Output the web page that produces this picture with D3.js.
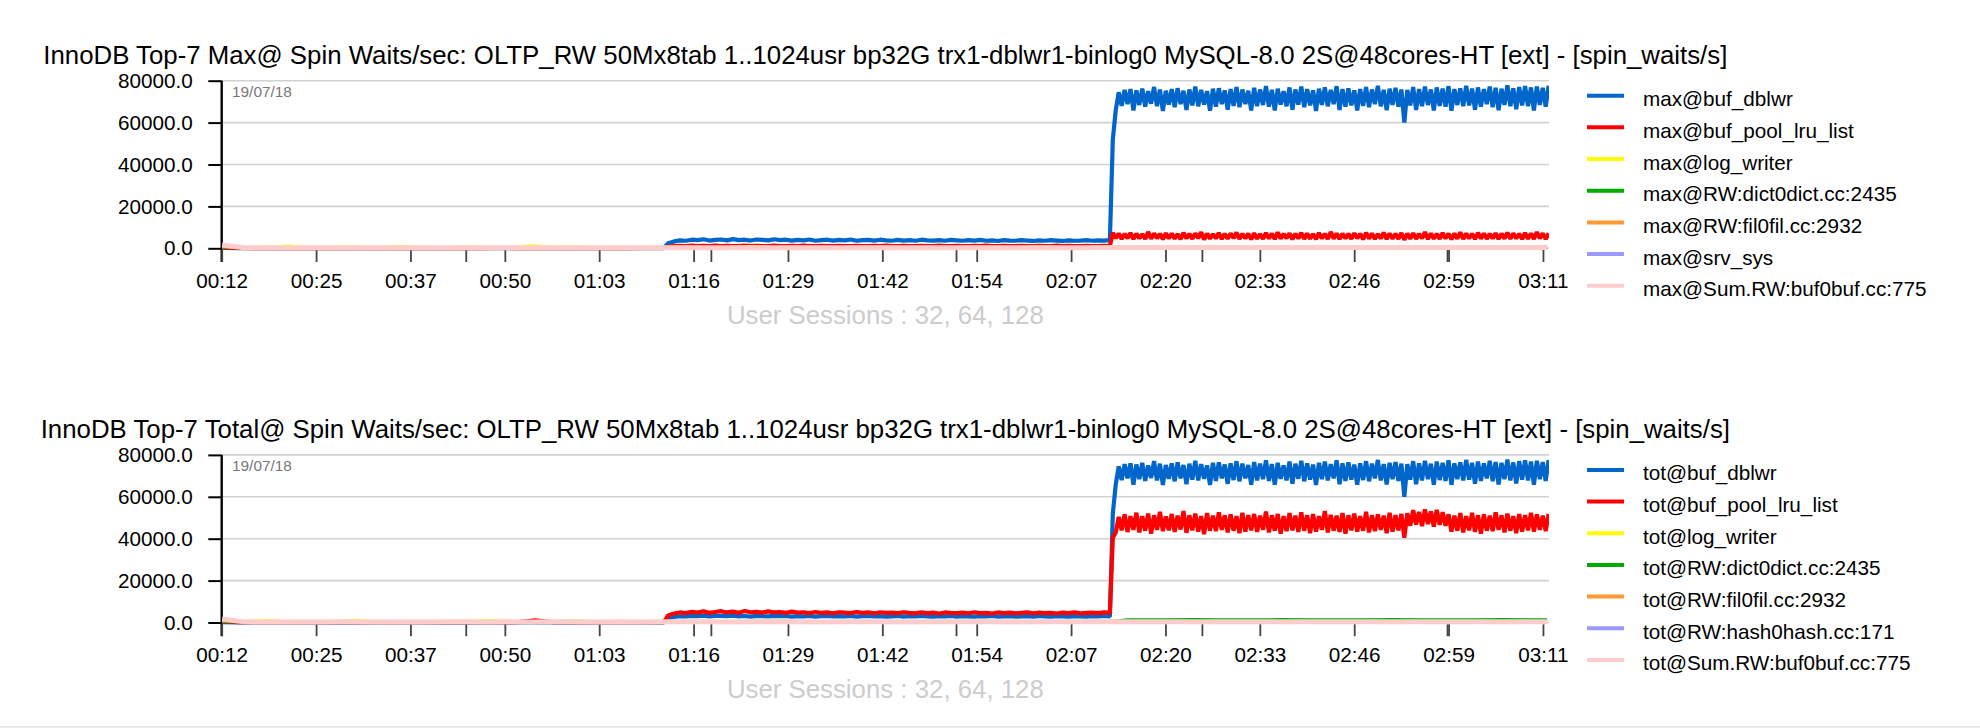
<!DOCTYPE html>
<html><head><meta charset="utf-8">
<script src="https://cdn.jsdelivr.net/npm/d3@7/dist/d3.min.js"></script>
<style>
body{margin:0;background:#fff;}
svg{display:block;font-family:"Liberation Sans",Arial,Helvetica,sans-serif;}
</style>
</head><body>
<svg id="c" width="1980" height="728"></svg>
<script>
// ---------------- DATA ----------------
const topTitle = "InnoDB Top-7 Max@ Spin Waits/sec: OLTP_RW 50Mx8tab 1..1024usr bp32G trx1-dblwr1-binlog0 MySQL-8.0 2S@48cores-HT [ext] - [spin_waits/s]";
const botTitle = "InnoDB Top-7 Total@ Spin Waits/sec: OLTP_RW 50Mx8tab 1..1024usr bp32G trx1-dblwr1-binlog0 MySQL-8.0 2S@48cores-HT [ext] - [spin_waits/s]";
const dateLabel = "19/07/18";
const sessionsLabel = "User Sessions : 32, 64, 128";

const topNames = ["max@buf_dblwr","max@buf_pool_lru_list","max@log_writer","max@RW:dict0dict.cc:2435","max@RW:fil0fil.cc:2932","max@srv_sys","max@Sum.RW:buf0buf.cc:775"];
const botNames = ["tot@buf_dblwr","tot@buf_pool_lru_list","tot@log_writer","tot@RW:dict0dict.cc:2435","tot@RW:fil0fil.cc:2932","tot@RW:hash0hash.cc:171","tot@Sum.RW:buf0buf.cc:775"];
const seriesColors = ["#0066cc","#ff0000","#ffff00","#00aa00","#ff9933","#9999ff","#ffcccc"];

// time axis (minutes of the run clock)
const timeStart = 12.35, timeEnd = 192.65, tickStep = 12.82;
const xTickLabels = ["00:12","00:25","00:37","00:50","01:03","01:16","01:29","01:42","01:54","02:07","02:20","02:33","02:46","02:59","03:11"];
const markerTimes = [45.5, 78.8, 112.1, 145.5, 178.8];
const yTicks = [0, 20000, 40000, 60000, 80000];

// sample times: phase A (idle), phase B, phase C ; and a coarse grid for the small series
const timesA = d3.range(12.4, 72.5, 2.5);
const timesB = d3.range(73.0, 133.2, 0.8);
const timesC = d3.range(133.4, 192.7, 0.4);
const timesMinor = d3.range(12.4, 193, 3);

// ---- max@buf_dblwr
const maxDblwrA = [200,100,80,60,90,70,50,80,60,90,70,60,80,50,70,60,80,70,60,90,70,60,80,70,100];
const maxDblwrB = [2400,3300,3800,3600,4100,3900,4300,3700,4000,4200,
3800,4400,3900,4100,3700,4200,4000,3800,4300,3900,
4100,3700,4000,3800,4200,3600,3900,4100,3700,4000,
3800,4200,3600,3900,4000,3700,4100,3800,3600,4000,
3700,3900,3600,4100,3800,3700,3900,3600,4000,3800,
3600,3900,3700,4000,3600,3800,3500,3900,3700,3600,
3900,3700,3500,3800,3600,3900,3700,3500,3800,3600,
3700,3900,3600,3800,3700,3900];
const maxDblwrC = [52000,66000,74500,68000,75600,68800,76000,65800,75400,68400,
76200,67600,75000,69000,77000,67800,75800,65600,75200,68600,
76000,67400,76400,68800,75200,66000,75800,68200,77200,67800,
75600,68600,75000,65700,76200,67600,76400,68800,75400,66200,
76000,68000,77000,67400,75800,68800,75200,65800,76600,67800,
75800,68400,77400,67600,75600,65800,76200,68600,75000,67800,
76800,66200,75800,68600,77200,67400,76000,68200,75400,65600,
76200,68400,76800,67800,75600,68800,77400,66000,76000,67600,
76400,68200,75400,65800,76000,68000,77000,67400,75800,68800,
77600,67800,75600,65900,76200,68400,76600,67600,75800,60000,
75600,68200,77000,66000,76000,67800,77200,68400,75800,65800,
76800,68000,76200,67600,77400,65700,76000,68400,76400,67800,
77600,68200,76200,66200,76800,67600,76000,68800,77200,67400,
76600,65900,76200,68400,77800,67800,76400,66400,77000,68200,
77400,67800,76800,65800,77200,68400,76600,67600,77600];

// ---- max@buf_pool_lru_list
const maxLruA = [300,150,120,140,130,150,120,140,130,150,120,140,130,150,120,140,130,150,120,140,130,150,120,140,150];
const maxLruB = [800,1000,1200,1100,1300,1000,1200,1100,1300,1000,
1200,1100,1000,1300,1100,1200,1000,1100,1300,1100,
1000,1200,1100,1300,1000,1100,1200,1000,1100,1200,
1100,1000,1200,1100,1000,1200,1100,1300,1000,1100,
1200,1000,1100,1200,1000,1100,1300,1100,1000,1200,
1100,1000,1200,1100,1300,1000,1100,1200,1000,1100,
1200,1100,1000,1200,1100,1000,1300,1100,1200,1000,
1100,1200,1000,1100,1200,1100];
const maxLruC = [7400,4800,7000,4500,6900,4800,7300,4400,7000,4700,
6800,4500,7800,4600,7100,4800,6900,4300,7200,4700,
7000,4600,6800,4400,7400,4700,6900,4500,7100,4800,
7700,4200,7000,4600,6800,4700,7300,4400,6900,4600,
7100,4800,7500,4500,6900,4700,7000,4300,7200,4600,
6800,4500,7300,4700,7000,4400,7600,4600,6900,4800,
7100,4300,6900,4700,7400,4500,7000,4600,6800,4400,
7300,4700,6900,4500,7800,4600,7100,4400,7000,4700,
6900,4500,7200,4800,6900,4300,7400,4600,7000,4500,
6800,4700,7500,4400,7100,4600,6900,4500,7300,4100,
7000,4600,7200,4500,6900,4700,7700,4400,7100,4600,
6900,4500,7300,4700,7000,4300,7100,4600,7600,4500,
7000,4700,6900,4400,7400,4600,7100,4500,6900,4700,
7200,4400,7000,4600,7500,4500,7100,4700,6900,4400,
7300,4600,7000,4500,7700,4700,7100,4400,7200];

// ---- small max@ series (coarse grid)
const maxLogWriter = [900,700,800,1400,700,800,900,700,1300,800,700,900,800,700,1500,800,900,700,800,700,800,900,700,800,1200,700,900,800,700,800,900,700,800,700,900,800,700,1000,800,700,900,800,1000,900,800,1000,900,800,900,1000,800,900,1000,800,900,1000,900,800,1000,900,900];
const maxDict = [200,150,120,140,160,130,150,140,120,160,150,130,140,160,120,150,140,130,160,150,200,220,180,210,190,230,200,180,220,210,190,200,230,180,210,200,190,220,200,210,300,280,310,290,300,320,280,300,290,310,300,280,320,290,300,310,280,300,290,310,300];
const maxFil = [500,400,380,420,400,390,410,380,420,400,390,410,400,380,420,400,390,410,400,380,450,470,440,460,450,480,440,460,450,470,440,460,480,450,470,440,460,450,470,460,600,580,620,590,600,610,580,600,620,590,600,610,580,600,590,620,600,580,610,600,600];
const maxSrvSys = [600,100,90,110,100,80,100,90,110,100,90,100,110,90,100,80,100,90,110,100,100,90,110,100,80,100,90,110,100,90,100,110,90,100,80,100,90,110,100,100,120,110,130,120,110,120,130,110,120,130,110,120,110,130,120,110,120,130,110,120,120];
const maxSumBuf = [1600,300,280,300,290,310,300,280,300,290,300,310,280,300,290,300,310,280,300,290,320,300,310,290,320,300,310,290,300,320,310,290,300,320,300,310,290,300,320,310,350,340,360,350,340,360,350,340,360,350,340,360,350,340,360,350,340,360,350,340,350];

// ---- tot@buf_dblwr
const totDblwrA = [150,60,50,40,60,50,40,60,50,40,60,50,40,60,50,40,60,50,40,60,50,40,60,50,60];
const totDblwrB = [2000,2700,3000,2900,3200,3000,3300,2900,3100,3200,
3000,3300,2900,3100,2800,3200,3000,2900,3200,3000,
3100,2800,3000,2900,3200,2800,3000,3100,2900,3000,
2900,3100,2800,3000,3100,2900,3000,2800,2900,3100,
2800,3000,2900,3100,2900,2800,3000,2900,3100,2800,
3000,2900,2800,3000,2900,3100,2800,2900,3000,2800,
2900,3000,2800,3100,2900,2800,3000,2900,2800,3000,
2900,2800,3000,2900,3100,2900];
const totDblwrC = maxDblwrC; // the two traces coincide in the picture

// ---- tot@buf_pool_lru_list
const totLruA = [400,150,120,140,130,150,120,140,130,150,120,140,130,150,120,140,130,1000,120,140,130,150,120,140,150];
const totLruB = [3400,4300,4800,4500,5100,4700,5300,4600,5000,5400,
4800,5200,4600,5500,4900,5100,4700,5300,4800,5000,
4600,5200,4700,4900,4500,5000,4600,4800,4400,4900,
4700,4500,5000,4600,4800,4400,4900,4600,4700,4500,
4900,4600,4400,4800,4500,4700,4300,4800,4600,4500,
4700,4400,4900,4500,4600,4300,4800,4500,4700,4400,
4600,4800,4400,4700,4500,4600,4300,4700,4500,4800,
4400,4600,4700,4500,4800,4600];
const totLruC = [40500,43000,50400,44000,51600,43200,50800,44200,52400,43000,
50800,43800,52000,42400,51200,44200,52800,43600,50600,44000,
51800,43200,51000,44400,53200,42800,51200,44000,52000,43400,
50800,42200,52200,43800,51000,43600,52600,44200,51200,43000,
51600,43800,50800,42600,52400,43400,51200,44000,51800,43200,
51000,44200,53000,43000,51200,43800,51800,42400,50800,43600,
52200,44000,51000,43200,52600,43800,51200,42600,51800,43400,
50800,44200,53200,43000,51400,43800,51000,43200,52200,42400,
51200,44000,52000,43400,50800,43800,52800,43000,51200,43600,
51600,44200,51000,42600,52400,43400,51200,44000,51800,40500,
52200,46200,53600,46800,52800,46000,54000,47000,53000,45800,
53800,46600,52600,46200,51600,43400,51000,43800,52200,43000,
50800,44000,52400,43200,51200,42400,51600,43800,51000,43600,
52600,44200,51200,43000,52000,43800,50800,42600,51800,43400,
51200,44000,52400,43400,51600,44200,51000,43600,51800];

// ---- small tot@ series (coarse grid)
const totLogWriter = [1000,800,1300,700,900,800,1400,700,800,900,700,800,1300,900,700,800,1200,700,900,800,700,900,800,700,900,1100,800,700,900,800,700,800,900,700,1000,800,900,700,800,900,900,1000,800,900,1000,800,900,1000,800,900,1000,900,800,1000,900,800,1000,900,800,900,900];
const totDict = [150,100,90,110,100,90,110,100,90,110,100,90,110,100,90,110,100,90,110,100,250,300,280,320,300,290,310,300,280,320,300,290,310,300,280,320,300,290,310,300,320,1500,1550,1450,1600,1500,1550,1450,1600,1550,1500,1450,1550,1600,1500,1550,1450,1550,1600,1500,1550];
const totFil = [500,400,380,420,400,390,410,380,420,400,390,410,400,380,420,400,390,410,400,380,450,470,440,460,450,480,440,460,450,470,440,460,480,450,470,440,460,450,470,460,600,580,620,590,600,610,580,600,620,590,600,610,580,600,590,620,600,580,610,600,600];
const totHash = [700,150,140,160,150,130,150,140,160,150,140,150,160,140,150,130,150,140,160,150,180,170,190,180,170,180,190,170,180,190,170,180,170,190,180,170,180,190,170,180,220,210,230,220,210,220,230,210,220,230,210,220,210,230,220,210,220,230,210,220,220];
const totSumBuf = [1700,300,280,300,290,310,300,280,300,290,300,310,280,300,290,300,310,280,300,290,320,300,310,290,320,300,310,290,300,320,310,290,300,320,300,310,290,300,320,310,350,340,360,350,340,360,350,340,360,350,340,360,350,340,360,350,340,360,350,340,350];

// --------------- BUILD ---------------
const mainTimes = timesA.concat(timesB, timesC);
function zipT(times, vals){ return vals.map((v,i)=>({t:times[i], v:v})).filter(d=>d.t!==undefined); }

const topSeries = [
  zipT(mainTimes, maxDblwrA.concat(maxDblwrB, maxDblwrC)),
  zipT(mainTimes, maxLruA.concat(maxLruB, maxLruC)),
  zipT(timesMinor, maxLogWriter),
  zipT(timesMinor, maxDict),
  zipT(timesMinor, maxFil),
  zipT(timesMinor, maxSrvSys),
  zipT(timesMinor, maxSumBuf)
];
const botSeries = [
  zipT(mainTimes, totDblwrA.concat(totDblwrB, totDblwrC)),
  zipT(mainTimes, totLruA.concat(totLruB, totLruC)),
  zipT(timesMinor, totLogWriter),
  zipT(timesMinor, totDict),
  zipT(timesMinor, totFil),
  zipT(timesMinor, totHash),
  zipT(timesMinor, totSumBuf)
];
const strokeW = [4.2, 4.2, 1.8, 2.2, 1.8, 1.8, 5];

const svg = d3.select('#c');
const plotL = 221.7, plotR = 1549;
const x = d3.scaleLinear().domain([timeStart, timeEnd]).range([plotL, plotR]);
const labelTimes = xTickLabels.map((_, i) => timeStart + i * tickStep);
const fmtY = d3.format('.1f');

function drawChart(id, offY, title, names, series){
  const y = d3.scaleLinear().domain([0, 80000]).range([248.3 + offY, 80.7 + offY]);
  const g = svg.append('g');

  g.append('text').attr('x', (plotL + plotR) / 2).attr('y', 64 + offY)
    .attr('text-anchor', 'middle').attr('font-size', 25.8).attr('fill', '#000').text(title);

  g.append('g').selectAll('line').data(yTicks).join('line')
    .attr('x1', plotL).attr('x2', plotR)
    .attr('y1', d => y(d)).attr('y2', d => y(d))
    .attr('stroke', '#d2d2d2').attr('stroke-width', 1.6);

  const ya = g.append('g').attr('transform', `translate(${plotL},0)`)
    .call(d3.axisLeft(y).tickValues(yTicks).tickFormat(fmtY).tickSize(13.4).tickSizeOuter(0).tickPadding(15.6));
  ya.select('.domain').remove();
  ya.selectAll('.tick line').attr('stroke', '#000').attr('stroke-width', 2);
  ya.selectAll('.tick text').attr('font-size', 20.7).attr('fill', '#000')
    .attr('font-family', '"Liberation Sans",Arial,sans-serif');
  g.append('line').attr('x1', plotL).attr('x2', plotL)
    .attr('y1', y(80000)).attr('y2', y(0) + 13.7)
    .attr('stroke', '#000').attr('stroke-width', 2.4);

  const xa = g.append('g').attr('transform', `translate(0,${y(0) + 1.7})`)
    .call(d3.axisBottom(x).tickValues(labelTimes).tickFormat((d, i) => xTickLabels[i]).tickSize(12).tickSizeOuter(0).tickPadding(11.6));
  xa.select('.domain').remove();
  xa.selectAll('.tick line').attr('stroke', '#444').attr('stroke-width', 1.8);
  xa.selectAll('.tick text').attr('font-size', 20.7).attr('fill', '#000')
    .attr('font-family', '"Liberation Sans",Arial,sans-serif');
  const xm = g.append('g').attr('transform', `translate(0,${y(0) + 1.7})`)
    .call(d3.axisBottom(x).tickValues(markerTimes).tickFormat('').tickSize(12).tickSizeOuter(0));
  xm.select('.domain').remove();
  xm.selectAll('.tick line').attr('stroke', '#444').attr('stroke-width', 1.8);

  g.append('text').attr('x', 232).attr('y', 96.5 + offY).attr('font-size', 15.4)
    .attr('fill', '#777').text(dateLabel);

  g.append('text').attr('x', (plotL + plotR) / 2).attr('y', 324 + offY)
    .attr('text-anchor', 'middle').attr('font-size', 25.8).attr('fill', '#cccccc').text(sessionsLabel);

  svg.append('clipPath').attr('id', 'clip' + id).append('rect')
    .attr('x', plotL).attr('y', y(80000) - 4).attr('width', plotR - plotL).attr('height', y(0) - y(80000) + 8);

  const line = d3.line().x(d => x(d.t)).y(d => y(d.v));
  const lg = g.append('g').attr('clip-path', `url(#clip${id})`);
  lg.selectAll('path').data(series).join('path')
    .attr('d', d => line(d)).attr('fill', 'none')
    .attr('stroke', (d, i) => seriesColors[i])
    .attr('stroke-width', (d, i) => strokeW[i])
    .attr('stroke-linejoin', 'bevel');

  const leg = g.append('g');
  const rowY = i => 95.7 + offY + i * 31.67;
  leg.selectAll('line').data(names).join('line')
    .attr('x1', 1587).attr('x2', 1624)
    .attr('y1', (d, i) => rowY(i)).attr('y2', (d, i) => rowY(i))
    .attr('stroke', (d, i) => seriesColors[i]).attr('stroke-width', 4);
  leg.selectAll('text').data(names).join('text')
    .attr('x', 1643).attr('y', (d, i) => rowY(i) + 10.5)
    .attr('font-size', 20.7).attr('fill', '#000').text(d => d);
}

drawChart('top', 0, topTitle, topNames, topSeries);
drawChart('bot', 374.2, botTitle, botNames, botSeries);

svg.append('rect').attr('x', 0).attr('y', 726).attr('width', 1980).attr('height', 2).attr('fill', '#e8e8e8');
</script>
</body></html>
